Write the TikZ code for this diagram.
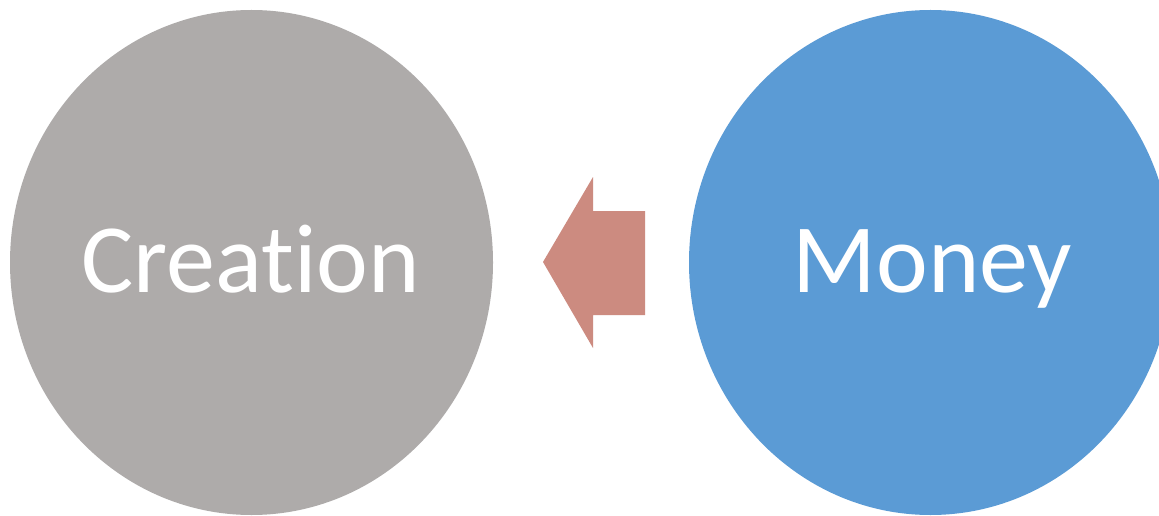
\documentclass[tikz,border=0pt]{standalone}
\usepackage{fontspec}
\setmainfont[Ligatures=NoCommon]{Carlito}
\usetikzlibrary{shapes.geometric}
\definecolor{cgray}{HTML}{AEABAA}
\definecolor{cblue}{HTML}{5B9BD5}
\definecolor{carrow}{HTML}{CC8B80}
\tikzset{
  circ/.style={ellipse, minimum width=483pt, minimum height=505pt, inner sep=0pt},
  lbl/.style={anchor=base, inner sep=0pt, text=white, font=\fontsize{98}{110}\selectfont},
}
\begin{document}
\begin{tikzpicture}[x=1pt,y=-1pt]
\useasboundingbox (0,0) rectangle (1159,516);
\clip (0,0) rectangle (1159,516);
\fill[white] (0,0) rectangle (1159,516);
\node[circ, fill=cgray] (creation) at (251.5,262.5) {};
\node[circ, fill=cblue] (money) at (930.5,262.5) {};
\node[lbl] (creationtext) at (250.5,292) {Creation};
\node[lbl] (moneytext) at (932.5,292) {Money};
\fill[carrow] (543,262) -- (593,177) -- (593,211) -- (645,211) -- (645,315) -- (593,315) -- (593,348) -- cycle;
\end{tikzpicture}
\end{document}
